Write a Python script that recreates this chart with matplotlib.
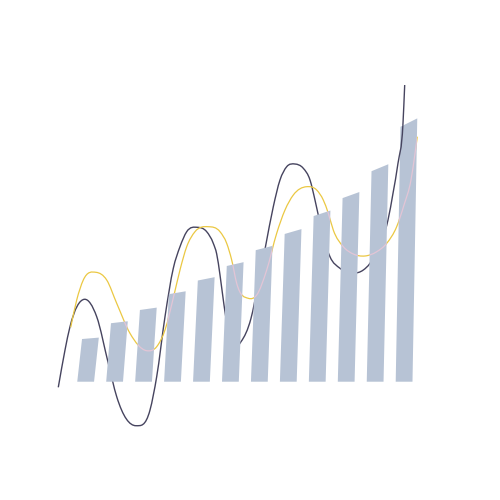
import numpy as np
import matplotlib
matplotlib.use("Agg")
import matplotlib.pyplot as plt
from matplotlib.path import Path
from matplotlib.patches import Polygon, PathPatch

# bar values (12 bars, left to right)
bar_values = [10.0, 13.7, 16.8, 20.5, 23.7, 27.1, 30.8, 34.6, 38.8, 43.0, 49.3, 59.7]

# dark wave (x in bar index units)
dark_x = [-0.945, -0.713, -0.541, -0.047, 0.382, 0.782, 1.073, 1.739, 2.223, 2.454,
          2.741, 3.028, 3.259, 3.491, 3.857, 4.181, 4.409, 4.527, 4.641, 4.779,
          4.952, 5.124, 5.366, 5.712, 5.953, 6.212, 6.482, 6.713, 6.945, 7.231,
          7.518, 7.750, 7.922, 8.036, 8.440, 8.786, 9.245, 9.591, 9.822, 10.054,
          10.444, 10.617, 10.789, 10.962, 11.021]
dark_y = [-1.31, 7.42, 12.88, 19.30, 15.22, 4.31, -3.51, -10.30, -6.63, 1.17,
          15.22, 26.56, 31.62, 35.13, 36.16, 35.13, 32.41, 29.91, 24.99, 17.96,
          10.94, 8.13, 9.37, 14.85, 22.65, 31.62, 40.98, 47.24, 50.35, 50.98,
          49.98, 47.24, 42.55, 39.04, 29.27, 26.56, 25.39, 26.16, 27.73, 30.84,
          37.87, 44.12, 51.15, 60.52, 69.48]

# yellow wave
gold_x = [-0.516, -0.309, -0.081, 0.358, 0.727, 1.073, 1.532, 2.109, 2.454, 2.741,
          3.052, 3.276, 3.491, 3.777, 4.237, 4.641, 4.872, 5.045, 5.218, 5.618,
          5.909, 6.254, 6.599, 6.886, 7.173, 7.636, 7.981, 8.209, 8.382, 8.554,
          8.900, 9.245, 9.649, 10.054, 10.399, 10.744, 10.997, 11.238, 11.370, 11.456]
gold_y = [12.74, 19.13, 23.82, 25.62, 23.82, 18.36, 11.33, 7.26, 8.20, 12.11,
          20.30, 26.63, 31.62, 35.13, 36.30, 35.13, 32.41, 28.50, 23.04, 19.53,
          20.30, 26.16, 34.75, 40.21, 43.72, 45.67, 44.89, 42.55, 39.44, 35.53,
          31.62, 29.91, 29.44, 30.44, 32.41, 36.30, 41.38, 47.24, 53.09, 57.38]

BAR_COLOR = '#b7c3d5'
DARK = '#46445f'
GOLD = '#ebc843'
PINK = '#e3c5d5'


def smooth_path(xs, ys):
    # cubic hermite in x, slopes from a three-point estimate
    x = np.asarray(xs, float)
    y = np.asarray(ys, float)
    n = len(x)
    h = np.diff(x)
    s = np.diff(y) / h
    m = np.empty(n)
    m[0], m[-1] = s[0], s[-1]
    for i in range(1, n - 1):
        m[i] = (s[i - 1] * h[i] + s[i] * h[i - 1]) / (h[i - 1] + h[i])
    verts = [(x[0], y[0])]
    codes = [Path.MOVETO]
    for i in range(n - 1):
        d = h[i] / 3
        verts += [(x[i] + d, y[i] + d * m[i]),
                  (x[i + 1] - d, y[i + 1] - d * m[i + 1]),
                  (x[i + 1], y[i + 1])]
        codes += [Path.CURVE4] * 3
    return Path(verts, codes)


fig = plt.figure(figsize=(5, 5), dpi=100)
ax = fig.add_axes([0, 0, 1, 1])
ax.set_xlim(-2.9585, 14.313)
ax.set_ylim(-27.70, 89.39)
ax.axis('off')

dark_path = smooth_path(dark_x, dark_y)
gold_path = smooth_path(gold_x, gold_y)

ax.add_patch(PathPatch(dark_path, fill=False, ec=DARK, lw=1.0, zorder=1))
ax.add_patch(PathPatch(gold_path, fill=False, ec=GOLD, lw=0.9, zorder=1))

# slanted bars
half_w = 0.29
lean = 0.165
stretch = 1.033
bars = []
for i, h in enumerate(bar_values):
    poly = Polygon([(i - half_w, 0), (i + half_w, 0),
                    (i + half_w + lean, h * stretch), (i - half_w + lean, h)],
                   closed=True, fc=BAR_COLOR, ec='none', zorder=2)
    ax.add_patch(poly)
    bars.append(poly)

# yellow line seen through the bars turns pink
for poly in bars:
    over = PathPatch(gold_path, fill=False, ec=PINK, lw=0.9, zorder=3)
    ax.add_patch(over)
    over.set_clip_path(poly)

# the dark line stays in front of the last bar
front = PathPatch(dark_path, fill=False, ec=DARK, lw=1.0, zorder=4)
ax.add_patch(front)
front.set_clip_path(bars[-1])

fig.savefig('out.png', dpi=100, facecolor='white')
